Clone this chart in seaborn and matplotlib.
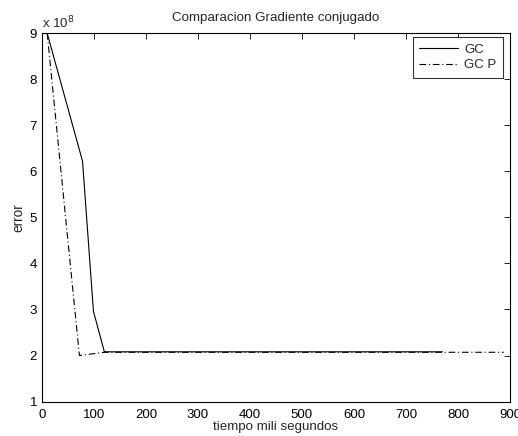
import matplotlib
matplotlib.use("Agg")
import matplotlib.pyplot as plt
from matplotlib.ticker import FuncFormatter, MultipleLocator
import pandas as pd
import seaborn as sns

# Error vs. elapsed time for plain and preconditioned conjugate gradient
gc_time = [10, 78, 99, 120, 770]
gc_error = [9.0e8, 6.22e8, 2.96e8, 2.08e8, 2.08e8]
gcp_time = [10, 72, 120, 888]
gcp_error = [9.0e8, 2.0e8, 2.07e8, 2.07e8]

df = pd.concat([
    pd.DataFrame({"t": gc_time, "err": gc_error, "metodo": "GC"}),
    pd.DataFrame({"t": gcp_time, "err": gcp_error, "metodo": "GC P"}),
])

sns.set_style("white")
plt.rcParams["font.family"] = ["Liberation Sans", "DejaVu Sans"]
plt.rcParams["font.size"] = 9

fig = plt.figure(figsize=(5.18, 4.36), dpi=100)
ax = fig.add_axes([0.081, 0.079, 0.9035, 0.845])

sns.lineplot(data=df, x="t", y="err", hue="metodo", style="metodo",
             palette=["black", "black"], dashes=[(None, None), (6, 2.5, 1, 2.5)],
             linewidth=0.8, sort=False, estimator=None, ax=ax)

ax.set_xlim(0, 900)
ax.set_ylim(1e8, 9e8)
ax.xaxis.set_major_locator(MultipleLocator(100))
ax.yaxis.set_major_locator(MultipleLocator(1e8))
ax.yaxis.set_major_formatter(FuncFormatter(lambda v, p: f"{v / 1e8:g}"))
ax.tick_params(direction="in", length=4, width=0.6, top=True, right=True,
               labelsize=9.5, colors="black")
ax.tick_params(axis="x", pad=5.5)
ax.tick_params(axis="y", pad=3.5)
for s in ax.spines.values():
    s.set_color("black")
    s.set_linewidth(0.8)

ax.text(0.0, 1.006, r"x 10$^{8}$", transform=ax.transAxes, fontsize=9.5,
        ha="left", va="bottom")
ax.set_title("Comparacion Gradiente conjugado", fontsize=9.6, pad=8.5)
ax.set_xlabel("tiempo mili segundos", fontsize=9.6, labelpad=0)
ax.set_ylabel("error", fontsize=9.8, labelpad=3)

leg = ax.legend(title=None, loc="upper right", fontsize=9.5, frameon=True,
                fancybox=False, borderpad=0.5, handlelength=2.9,
                labelspacing=0.22, handletextpad=0.5, borderaxespad=0,
                bbox_to_anchor=(0.985, 0.989))
leg.get_frame().set_edgecolor("black")
leg.get_frame().set_linewidth(0.8)
for h in leg.get_lines():
    h.set_linewidth(0.8)

fig.savefig("out.png", dpi=100)
